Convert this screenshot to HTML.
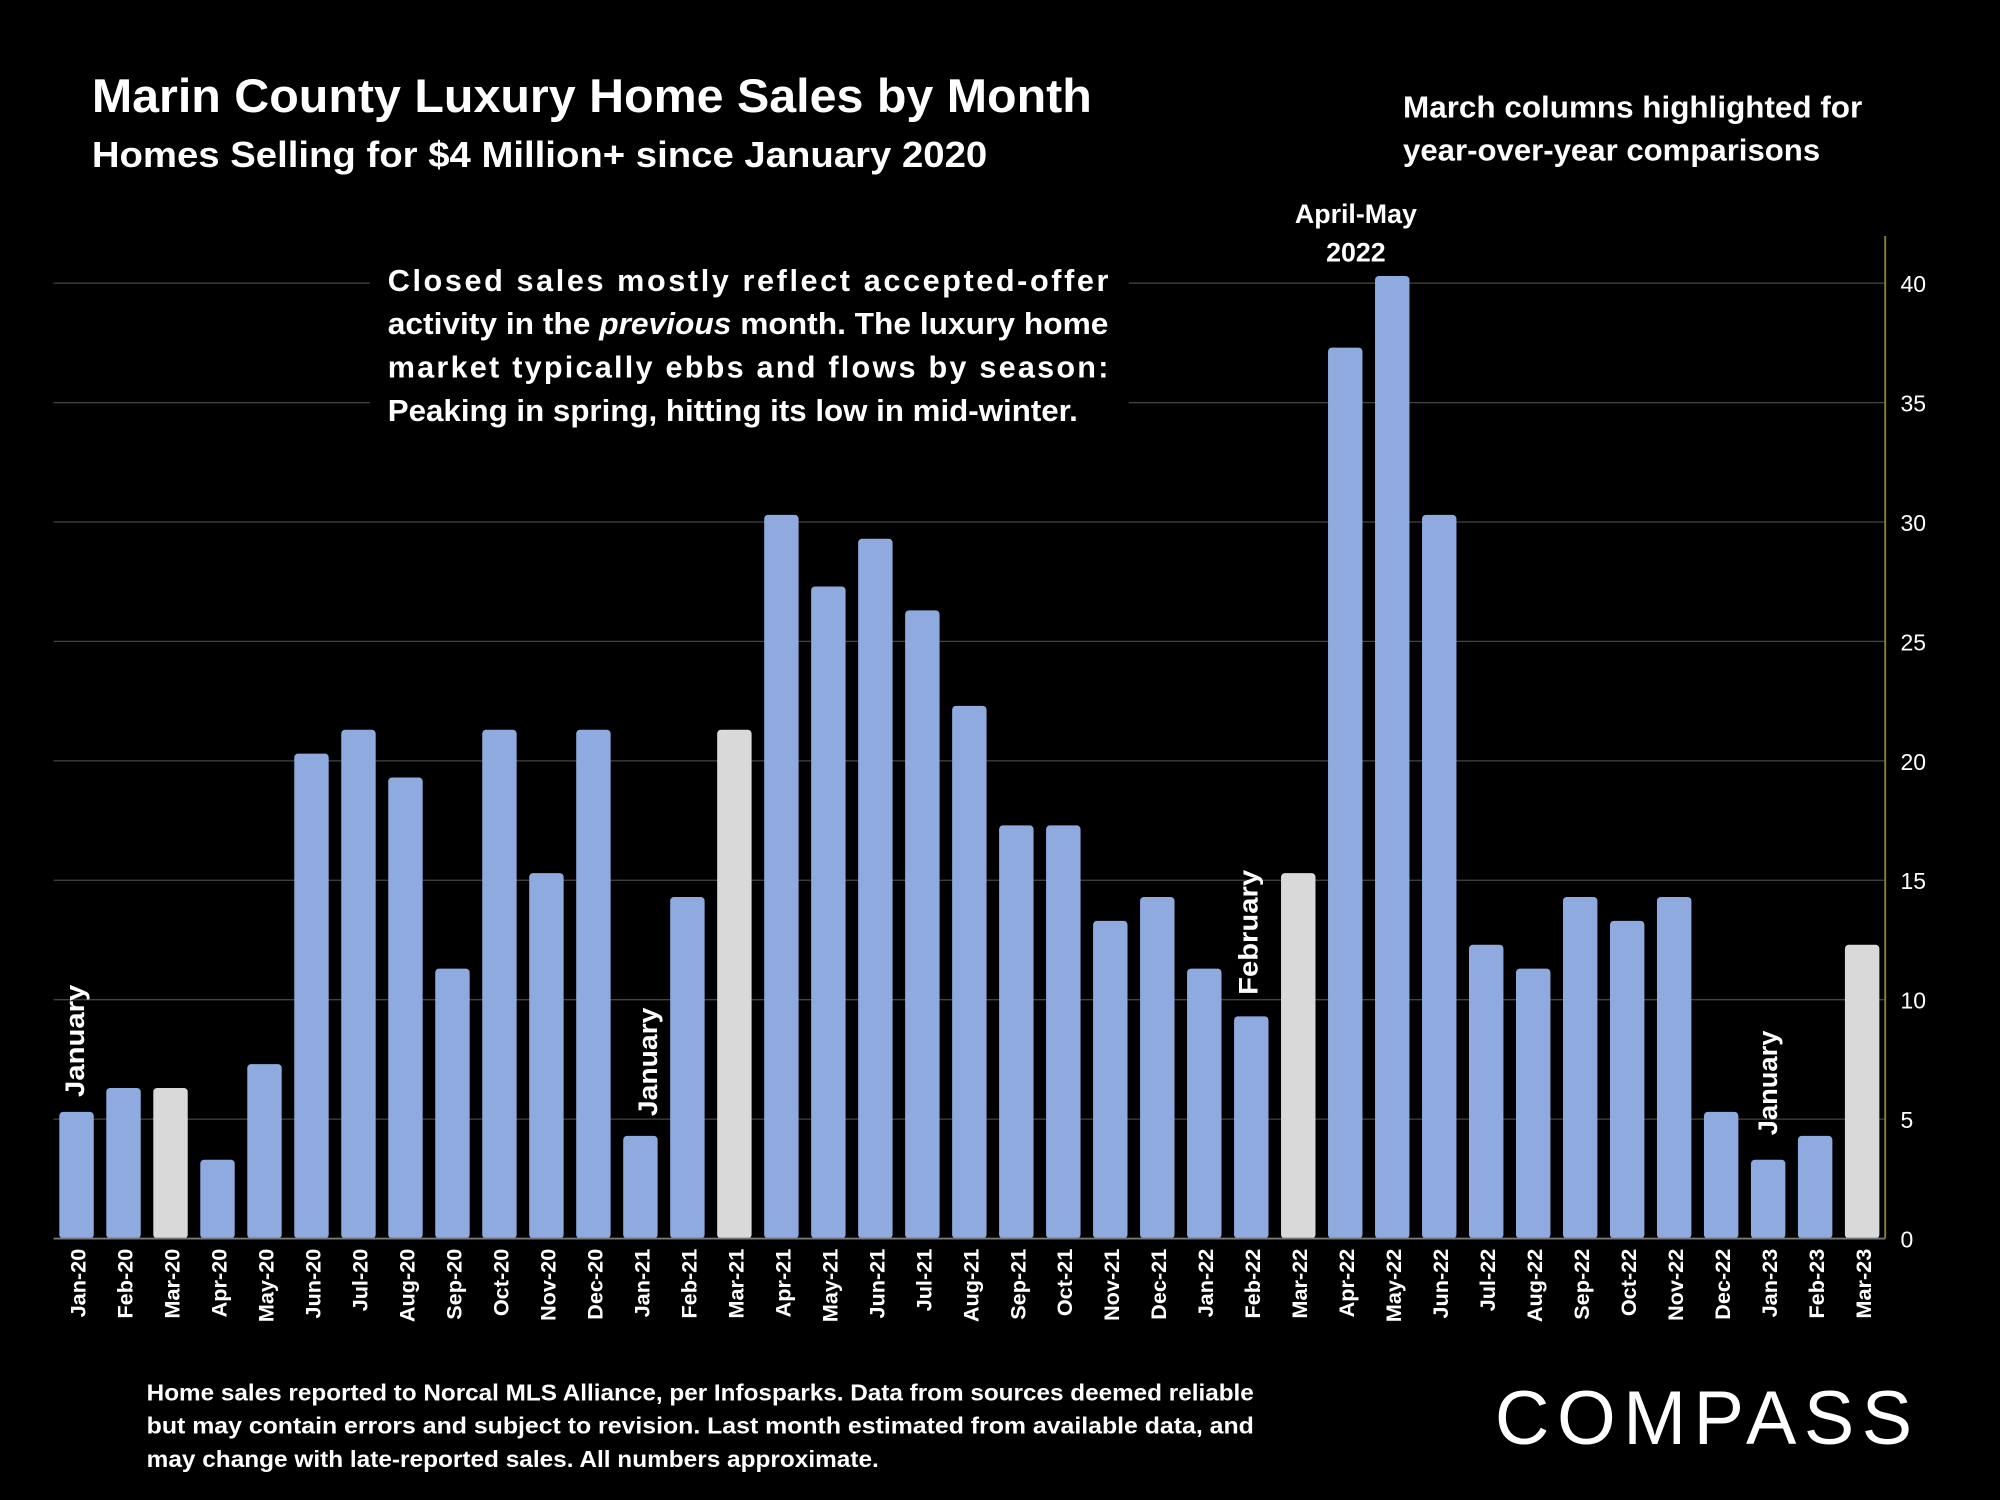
<!DOCTYPE html>
<html><head><meta charset="utf-8"><style>
html,body{margin:0;padding:0;background:#000;}
svg{display:block;font-family:"Liberation Sans",sans-serif;}
</style></head><body>
<svg id="chart" width="2000" height="1500" viewBox="0 0 1568 1176" xmlns="http://www.w3.org/2000/svg">
<rect width="1568" height="1176" fill="#000"/>
<text x="72" y="88" fill="#fff" font-size="37" font-weight="bold" textLength="784" lengthAdjust="spacingAndGlyphs">Marin County Luxury Home Sales by Month</text>
<text x="72" y="131" fill="#fff" font-size="28" font-weight="bold" textLength="702" lengthAdjust="spacingAndGlyphs">Homes Selling for $4 Million+ since January 2020</text>
<g fill="#fff" font-size="24" font-weight="bold">
<text x="1100" y="92" textLength="360" lengthAdjust="spacingAndGlyphs">March columns highlighted for</text>
<text x="1100" y="126" textLength="327" lengthAdjust="spacingAndGlyphs">year-over-year comparisons</text>
</g>
<g id="grid"></g>
<rect x="290" y="198" width="595" height="145" fill="#000"/>
<g fill="#fff" font-size="24" font-weight="bold">
<text x="304" y="228" textLength="565" lengthAdjust="spacing">Closed sales mostly reflect accepted-offer</text>
<text x="304" y="262" textLength="565" lengthAdjust="spacingAndGlyphs">activity in the <tspan font-style="italic">previous</tspan> month. The luxury home</text>
<text x="304" y="296" textLength="565" lengthAdjust="spacing">market typically ebbs and flows by season:</text>
<text x="304" y="330" textLength="541" lengthAdjust="spacingAndGlyphs">Peaking in spring, hitting its low in mid-winter.</text>
</g>
<line x1="1478" y1="185" x2="1478" y2="971" stroke="#8a7d3a" stroke-width="1.5"/>
<g id="yticks"></g>
<g id="bars"></g>
<g id="xlabels"></g>
<line x1="42" y1="971" x2="1478" y2="971" stroke="#777" stroke-width="1.5"/>
<g fill="#fff" font-size="21" font-weight="bold">
<text transform="translate(66,860) rotate(-90)" textLength="88" lengthAdjust="spacingAndGlyphs">January</text>
<text transform="translate(515,875) rotate(-90)" textLength="85" lengthAdjust="spacingAndGlyphs">January</text>
<text transform="translate(986,780) rotate(-90)" textLength="98" lengthAdjust="spacingAndGlyphs">February</text>
<text transform="translate(1393,890) rotate(-90)" textLength="82" lengthAdjust="spacingAndGlyphs">January</text>
<text x="1063" y="175" text-anchor="middle">April-May</text>
<text x="1063" y="205" text-anchor="middle">2022</text>
</g>
<g fill="#fff" font-size="18" font-weight="bold">
<text x="115" y="1098" textLength="868" lengthAdjust="spacingAndGlyphs">Home sales reported to Norcal MLS Alliance, per Infosparks. Data from sources deemed reliable</text>
<text x="115" y="1124" textLength="868" lengthAdjust="spacingAndGlyphs">but may contain errors and subject to revision.  Last month estimated from available data, and</text>
<text x="115" y="1150" textLength="574" lengthAdjust="spacingAndGlyphs">may change with late-reported sales. All numbers approximate.</text>
</g>
<text x="1172" y="1132" fill="#fff" font-size="60" letter-spacing="6" textLength="333" lengthAdjust="spacingAndGlyphs">COMPASS</text>
<script>
const categories=["Jan-20","Feb-20","Mar-20","Apr-20","May-20","Jun-20","Jul-20","Aug-20","Sep-20","Oct-20","Nov-20","Dec-20","Jan-21","Feb-21","Mar-21","Apr-21","May-21","Jun-21","Jul-21","Aug-21","Sep-21","Oct-21","Nov-21","Dec-21","Jan-22","Feb-22","Mar-22","Apr-22","May-22","Jun-22","Jul-22","Aug-22","Sep-22","Oct-22","Nov-22","Dec-22","Jan-23","Feb-23","Mar-23"];
const sales=[5,6,6,3,7,20,21,19,11,21,15,21,4,14,21,30,27,29,26,22,17,17,13,14,11,9,15,37,40,30,12,11,14,13,14,5,3,4,12];
const yTicks=[0,5,10,15,20,25,30,35,40];
const NS="http://www.w3.org/2000/svg";
const y=v=>971-v*18.725;
const x=i=>60+i*36.84;
function mk(t,a,p){const e=document.createElementNS(NS,t);for(const k in a)e.setAttribute(k,a[k]);p.appendChild(e);return e;}
const grid=document.getElementById('grid'),yt=document.getElementById('yticks'),bars=document.getElementById('bars'),xl=document.getElementById('xlabels');
yTicks.forEach(v=>{
 if(v>0){const l=mk('line',{x1:42,x2:1478,y1:y(v),y2:y(v),stroke:'#444','stroke-width':1},grid);
 
 }
 const t=mk('text',{x:1490,y:y(v)+7,fill:'#fff','font-size':18},yt);t.textContent=v;
 
 
});
sales.forEach((v,i)=>{
 const march=categories[i].startsWith('Mar');
 const h=971-y(v)+0.3*18.725;
 const r=mk('rect',{x:x(i)-13.5,y:971-h,width:27,height:h,rx:3,fill:march?'#d9d9d9':'#8eaadf'},bars);
 
 
 const t=mk('text',{transform:`translate(${x(i)+7},979) rotate(-90)`,fill:'#fff','font-size':17,'font-weight':'bold','text-anchor':'end'},xl);
 t.textContent=categories[i];
 
 
});
</script>
</svg>
</body></html>
